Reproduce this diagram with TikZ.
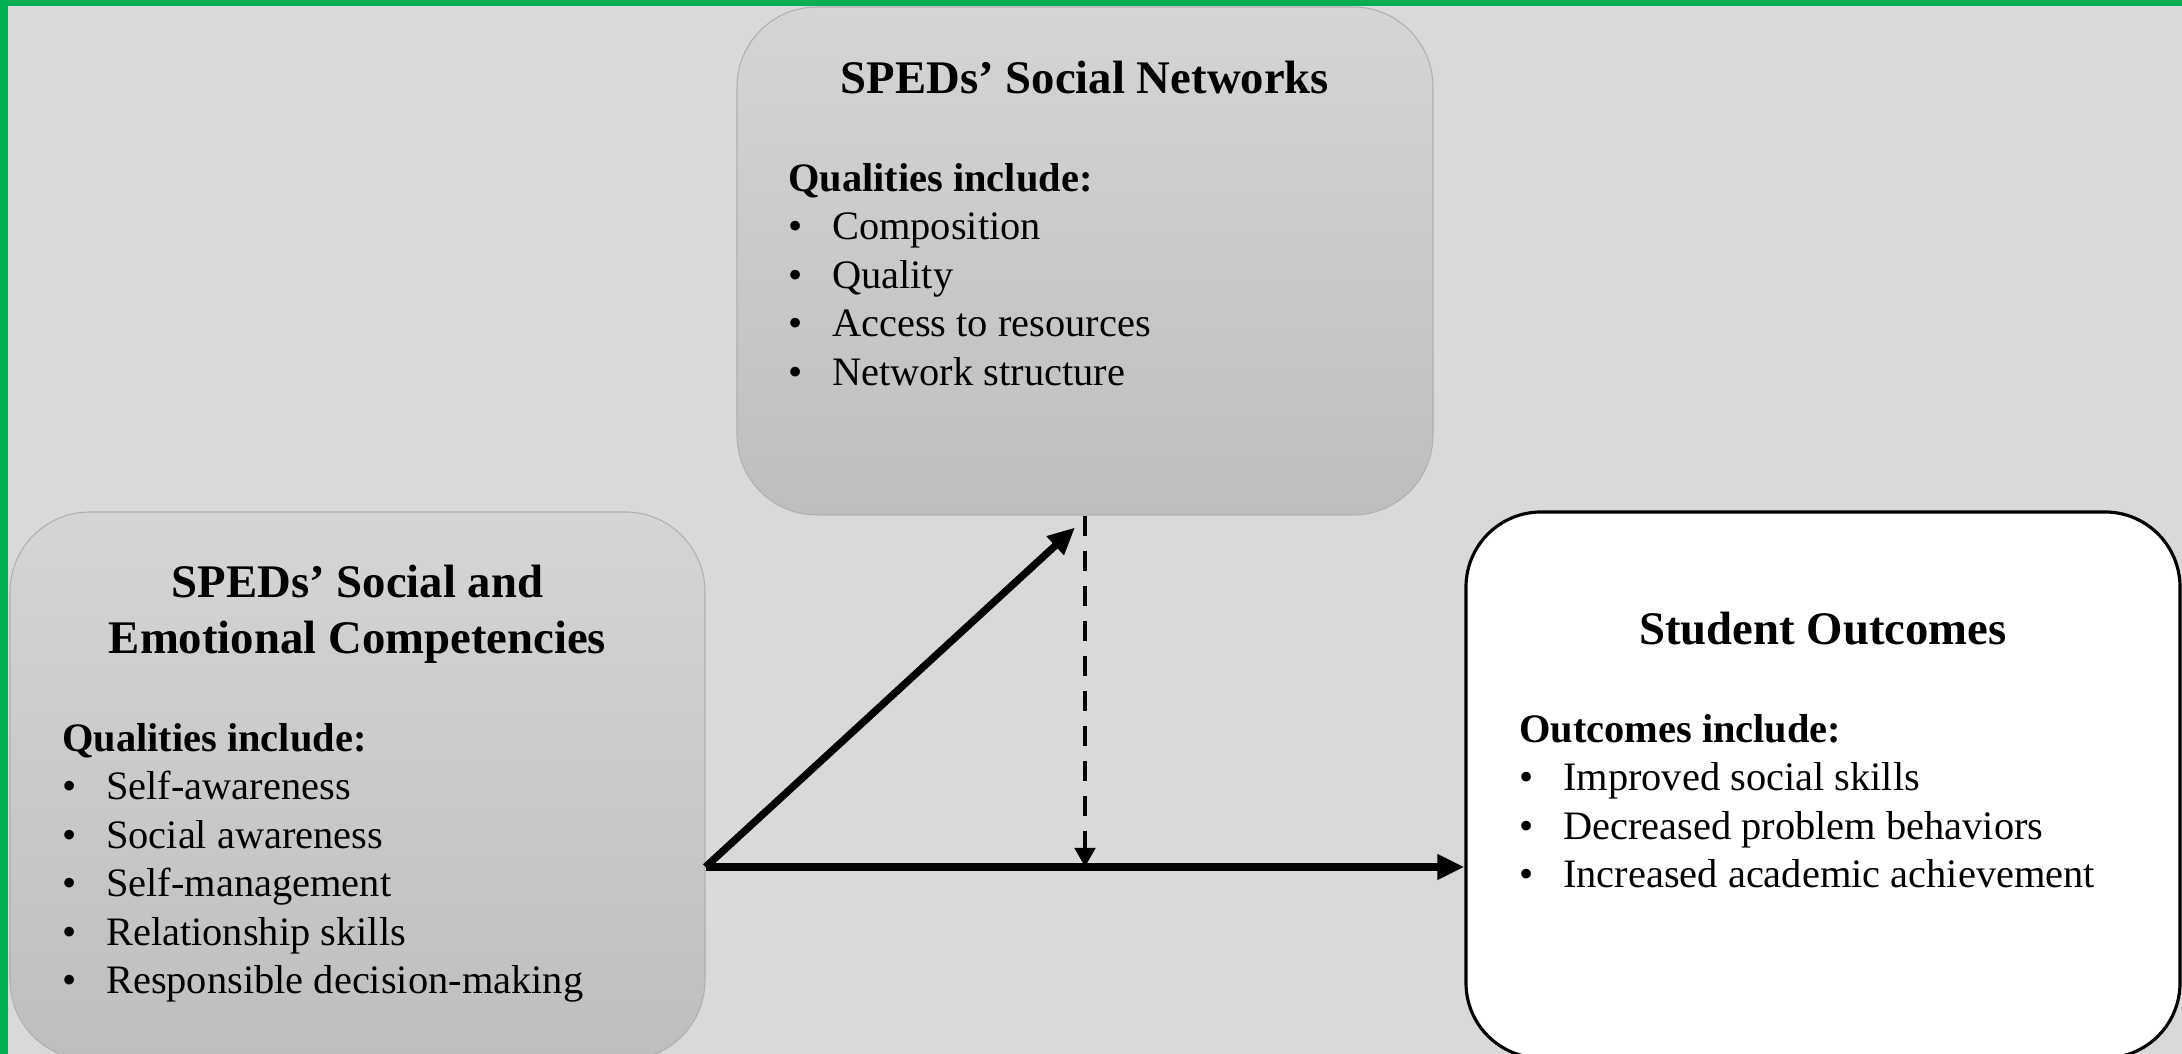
\documentclass[tikz,border=0pt]{standalone}
\usepackage{fontspec}
\setmainfont{Liberation Serif}
\usepackage{tikz}
\usetikzlibrary{arrows.meta,backgrounds}
\definecolor{pagebg}{RGB}{217,217,217}
\definecolor{framegreen}{RGB}{0,176,80}
\definecolor{boxtop}{RGB}{213,213,213}
\definecolor{boxbottom}{RGB}{190,190,190}
\definecolor{boxline}{RGB}{175,175,175}
\newcommand{\boxtitle}{\fontsize{13.3}{16}\selectfont\bfseries}
\newcommand{\boxbody}{\fontsize{11.5}{13.8}\selectfont}

\begin{document}
\begin{tikzpicture}[
  greybox/.style={draw=boxline, line width=0.3pt, rounded corners=0.8cm, top color=boxtop, bottom color=boxbottom, inner sep=0pt},
  whitebox/.style={draw=black, line width=0.9pt, rounded corners=0.75cm, fill=white, inner sep=0pt},
  heading/.style={anchor=base, inner sep=0pt, font=\boxtitle},
  itemlist/.style={anchor=base west, inner sep=0pt, font=\boxbody},
  mainarrow/.style={line width=2.1pt, -{Triangle[length=0.27cm,width=0.24cm]}},
  linkarrow/.style={line width=1.3pt, dash pattern=on 0.2cm off 0.15cm, -{Triangle[length=0.19cm,width=0.2cm]}}
]
\useasboundingbox (0,0) rectangle (21.82,10.54);
\clip (0,0) rectangle (21.82,10.54);
\fill[pagebg] (0,0) rectangle (21.82,10.54);
\fill[framegreen] (0,10.48) rectangle (21.82,10.54);
\fill[framegreen] (0,0) rectangle (0.08,10.54);

\node[greybox, minimum width=6.95cm, minimum height=5.48cm] (secbox) at (3.575,2.68) {};
\node[greybox, minimum width=6.96cm, minimum height=5.08cm] (netbox) at (10.85,7.93) {};
\node[whitebox, minimum width=7.14cm, minimum height=5.46cm] (outbox) at (18.23,2.69) {};

\node[heading] (sectitle) at ([yshift=-0.86cm]secbox.north) {\begin{tabular}[t]{@{}c@{}}SPEDs’ Social and\\Emotional Competencies\end{tabular}};
\node[heading] (nettitle) at ([yshift=-0.866cm]netbox.north) {SPEDs’ Social Networks};
\node[heading] (outtitle) at ([yshift=-1.34cm]outbox.north) {Student Outcomes};

\node[itemlist] (seclist) at ([xshift=0.52cm,yshift=-2.40cm]secbox.north west) {\begin{tabular}[t]{@{}p{0.44cm}@{}l@{}}
\multicolumn{2}{@{}l@{}}{\textbf{Qualities include:}}\\
\textbullet & Self-awareness\\
\textbullet & Social awareness\\
\textbullet & Self-management\\
\textbullet & Relationship skills\\
\textbullet & Responsible decision-making
\end{tabular}};
\node[itemlist] (netlist) at ([xshift=0.51cm,yshift=-1.85cm]netbox.north west) {\begin{tabular}[t]{@{}p{0.44cm}@{}l@{}}
\multicolumn{2}{@{}l@{}}{\textbf{Qualities include:}}\\
\textbullet & Composition\\
\textbullet & Quality\\
\textbullet & Access to resources\\
\textbullet & Network structure
\end{tabular}};
\node[itemlist] (outlist) at ([xshift=0.54cm,yshift=-2.32cm]outbox.north west) {\begin{tabular}[t]{@{}p{0.44cm}@{}l@{}}
\multicolumn{2}{@{}l@{}}{\textbf{Outcomes include:}}\\
\textbullet & Improved social skills\\
\textbullet & Decreased problem behaviors\\
\textbullet & Increased academic achievement
\end{tabular}};

\coordinate (fork) at ([yshift=-0.81cm]secbox.east);
\coordinate (tip) at ([xshift=-0.1cm,yshift=-0.12cm]netbox.south);
\draw[mainarrow] (fork) -- (fork -| outbox.west);
\draw[mainarrow] (fork) -- (tip);
\draw[linkarrow] (netbox.south) -- (netbox.south |- fork);
\end{tikzpicture}
\end{document}
